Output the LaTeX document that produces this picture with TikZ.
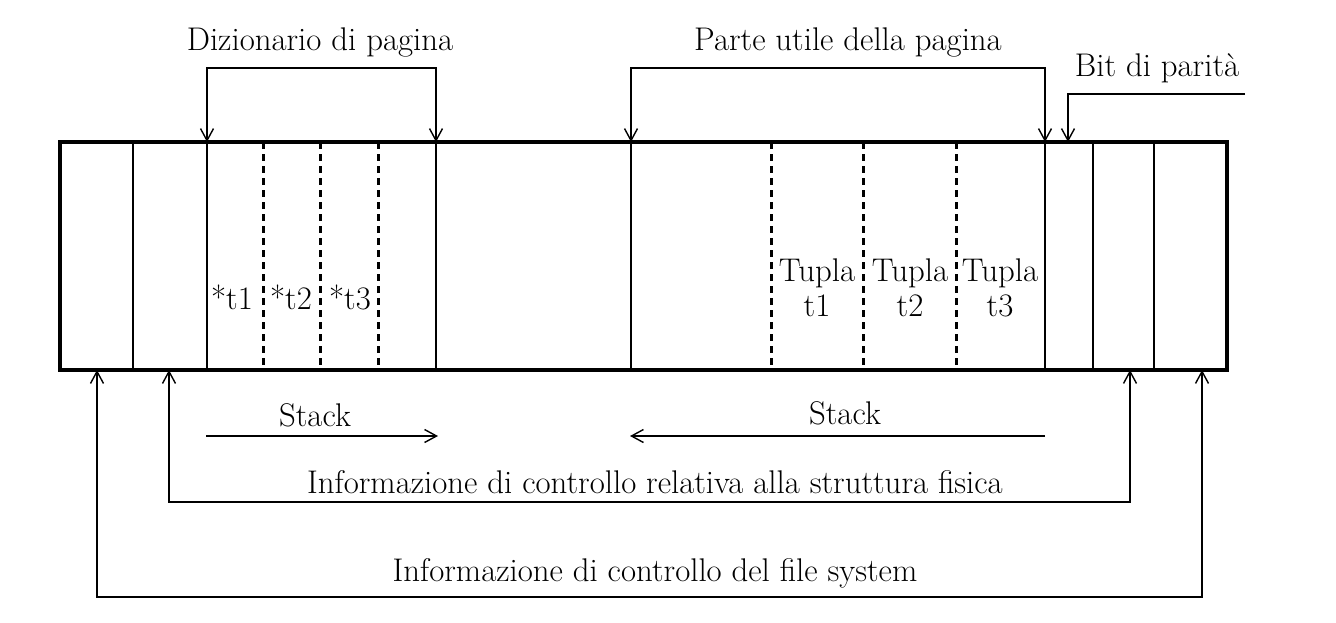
\documentclass[tikz,border=0pt]{standalone}
\usetikzlibrary{arrows.meta}
\begin{document}
\begin{tikzpicture}[x=0.5pt, y=-0.5pt,
    lbl/.style={font=\fontsize{16.4}{17.5}\selectfont, inner sep=0pt, align=center},
    conn/.style={line width=0.7pt, -{Straight Barb[length=6pt,width=6.5pt]}},
    brace/.style={line width=0.7pt, {Straight Barb[length=6pt,width=6.5pt]}-{Straight Barb[length=6pt,width=6.5pt]}}]
\useasboundingbox (0,0) rectangle (1336,622);
% celle della pagina
\foreach \x in {133,207,436,631,1045,1093,1154} \draw[line width=0.65pt] (\x,142) -- (\x,370);
\foreach \x in {263,320,378,771,863,956} \draw[line width=1.5pt, dash pattern=on 3.5pt off 2.5pt] (\x,142) -- (\x,370);
\draw[line width=2pt] (60,142) rectangle (1227,370);
% punti di aggancio
\coordinate (dizL) at (207,142);
\coordinate (dizR) at (436,142);
\coordinate (dizT) at (320,68);
\coordinate (utiL) at (631,142);
\coordinate (utiR) at (1045,142);
\coordinate (utiT) at (840,68);
\coordinate (bitP) at (1068,142);
\coordinate (bitE) at (1245,94);
\coordinate (fisL) at (169,370);
\coordinate (fisR) at (1130,370);
\coordinate (fisB) at (650,502);
\coordinate (fsL) at (97,370);
\coordinate (fsR) at (1202,370);
\coordinate (fsB) at (650,597);
\coordinate (stA) at (206,436);
\coordinate (stB) at (438,436);
\coordinate (stC) at (1045,436);
\coordinate (stD) at (630,436);
% testi
\node[lbl] (diz) at (320,42) {Dizionario di pagina};
\node[lbl] (uti) at (848,42) {Parte utile della pagina};
\node[lbl] (bit) at (1157,68) {Bit di parit\`a};
\foreach \x/\t in {232/1,291/2,350/3} \node[lbl] (p\t) at (\x,297) {*t\t};
\foreach \x/\t in {817/1,910/2,1000/3} \node[lbl] (tu\t) at (\x,288) {Tupla\\t\t};
\node[lbl] (stk1) at (315,415) {Stack};
\node[lbl] (stk2) at (845,413) {Stack};
\node[lbl] (fis) at (655,482) {Informazione di controllo relativa alla struttura fisica};
\node[lbl] (fs) at (655,573) {Informazione di controllo del file system};
% connettori
\draw[brace] (dizL) |- (dizT) -| (dizR);
\draw[brace] (utiL) |- (utiT) -| (utiR);
\draw[conn] (bitE) -| (bitP);
\draw[brace] (fisL) |- (fisB) -| (fisR);
\draw[brace] (fsL) |- (fsB) -| (fsR);
\draw[conn] (stA) -- (stB);
\draw[conn] (stC) -- (stD);
\end{tikzpicture}
\end{document}
